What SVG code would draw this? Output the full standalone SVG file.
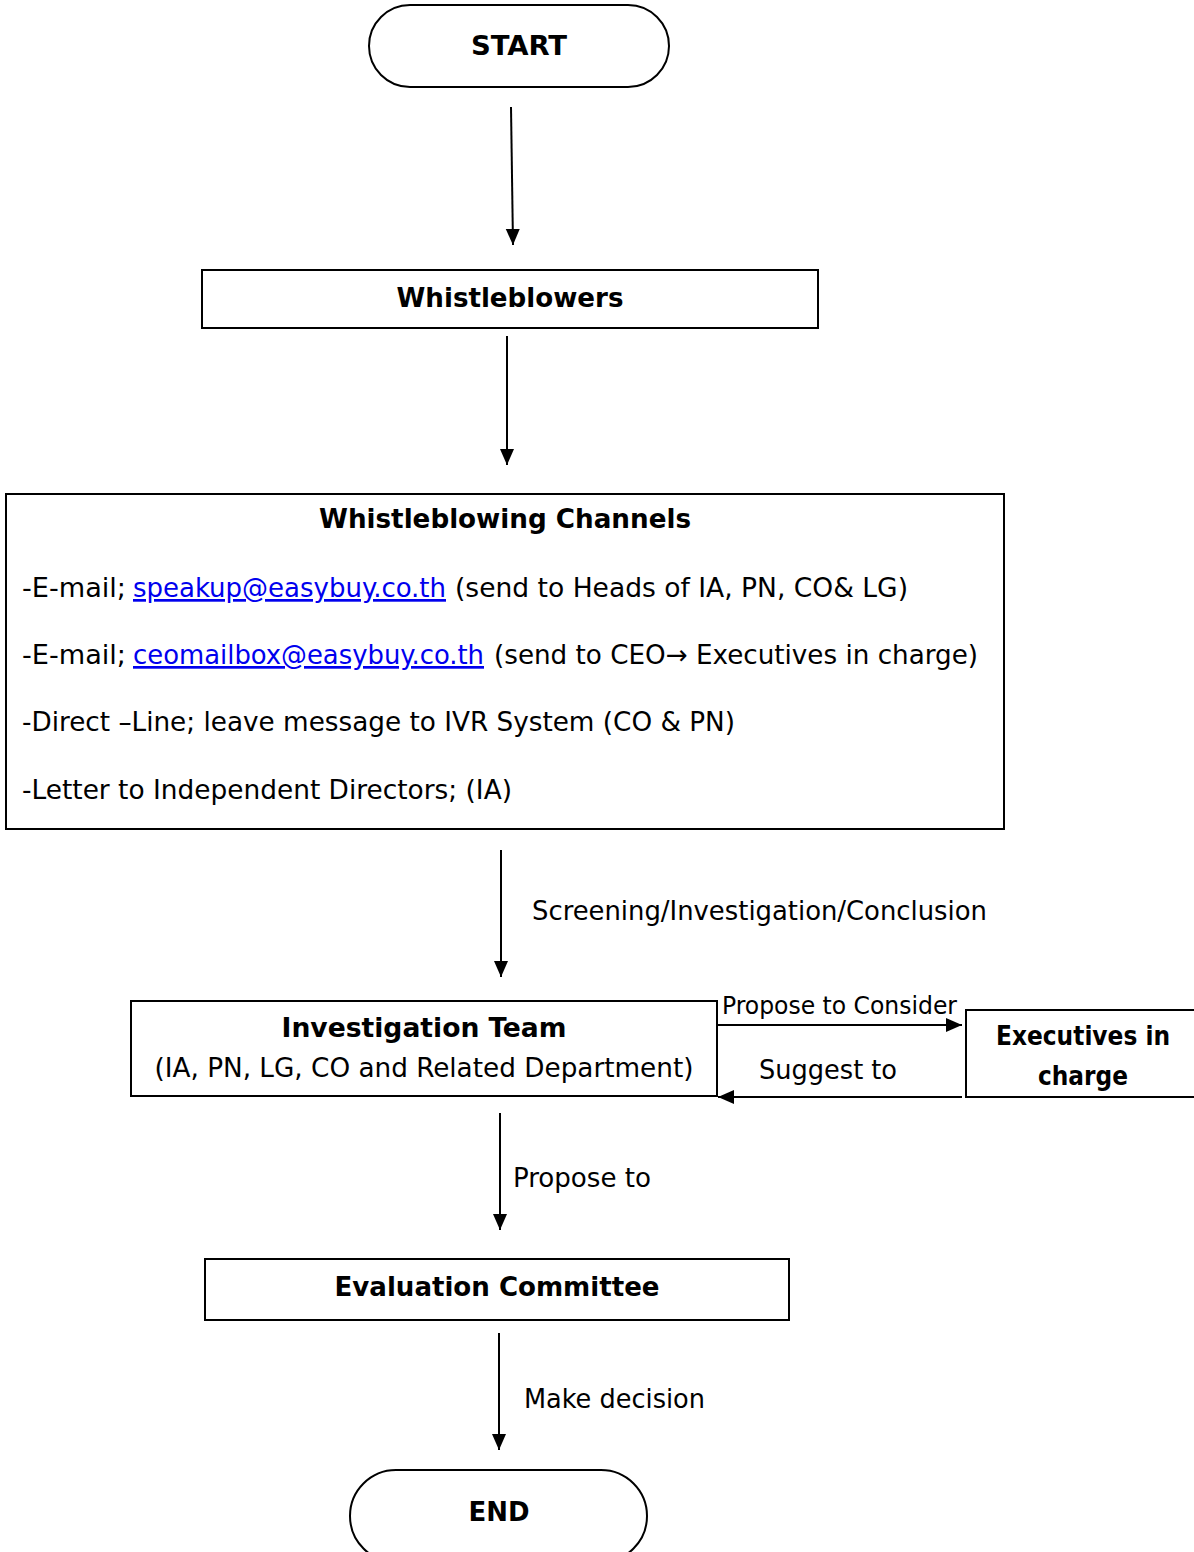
<svg xmlns="http://www.w3.org/2000/svg" width="1194" height="1552" viewBox="0 0 1194 1552">
<defs>
<style>
text{font-family:"DejaVu Sans Condensed","DejaVu Sans",sans-serif;font-size:27px;fill:#000}
.b{font-weight:bold}
.s{font-size:24px}
.link{fill:#0000ee;text-decoration:underline}
.box{fill:#fff;stroke:#000;stroke-width:2}
.ln{stroke:#000;stroke-width:2;fill:none}
</style>
<marker id="ah" markerUnits="userSpaceOnUse" markerWidth="16" markerHeight="16" viewBox="0 0 16 16" refX="16" refY="8" orient="auto">
<path d="M0,1 L16,8 L0,15 Z" fill="#000"/>
</marker>
</defs>
<rect width="1194" height="1552" fill="#fff"/>

<g id="start">
<rect class="box" x="369" y="5" width="300" height="82" rx="41" ry="41"/>
<text class="b" x="519" y="55" text-anchor="middle" textLength="96" lengthAdjust="spacingAndGlyphs">START</text>
</g>

<g id="whistleblowers">
<rect class="box" x="202" y="270" width="616" height="58"/>
<text class="b" x="510" y="307" text-anchor="middle" textLength="227" lengthAdjust="spacingAndGlyphs">Whistleblowers</text>
</g>

<g id="channels">
<rect class="box" x="6" y="494" width="998" height="335"/>
<text class="b" x="505" y="528" text-anchor="middle" textLength="372" lengthAdjust="spacingAndGlyphs">Whistleblowing Channels</text>
<text x="22" y="597" textLength="104" lengthAdjust="spacingAndGlyphs">-E-mail;</text>
<text class="link" x="133" y="597" textLength="313" lengthAdjust="spacingAndGlyphs">speakup@easybuy.co.th</text>
<text x="455" y="597" textLength="453" lengthAdjust="spacingAndGlyphs">(send to Heads of IA, PN, CO&amp; LG)</text>
<text x="22" y="664" textLength="104" lengthAdjust="spacingAndGlyphs">-E-mail;</text>
<text class="link" x="133" y="664" textLength="351" lengthAdjust="spacingAndGlyphs">ceomailbox@easybuy.co.th</text>
<text x="494" y="664" textLength="484" lengthAdjust="spacingAndGlyphs">(send to CEO→ Executives in charge)</text>
<text x="22" y="731" textLength="713" lengthAdjust="spacingAndGlyphs">-Direct –Line; leave message to IVR System (CO &amp; PN)</text>
<text x="22" y="799" textLength="490" lengthAdjust="spacingAndGlyphs">-Letter to Independent Directors; (IA)</text>
</g>

<g id="investigation">
<rect class="box" x="131" y="1001" width="586" height="95"/>
<text class="b" x="424" y="1037" text-anchor="middle" textLength="285" lengthAdjust="spacingAndGlyphs">Investigation Team</text>
<text x="424" y="1077" text-anchor="middle" textLength="539" lengthAdjust="spacingAndGlyphs">(IA, PN, LG, CO and Related Department)</text>
</g>

<g id="executives">
<rect class="box" x="966" y="1010" width="240" height="87"/>
<text class="b" x="1083" y="1045" text-anchor="middle" textLength="174" lengthAdjust="spacingAndGlyphs">Executives in</text>
<text class="b" x="1083" y="1085" text-anchor="middle" textLength="90" lengthAdjust="spacingAndGlyphs">charge</text>
</g>

<g id="evaluation">
<rect class="box" x="205" y="1259" width="584" height="61"/>
<text class="b" x="497" y="1296" text-anchor="middle" textLength="325" lengthAdjust="spacingAndGlyphs">Evaluation Committee</text>
</g>

<g id="end">
<rect class="box" x="350" y="1470" width="297" height="92" rx="46" ry="46"/>
<text class="b" x="499" y="1521" text-anchor="middle" textLength="61" lengthAdjust="spacingAndGlyphs">END</text>
</g>

<g id="connectors">
<line class="ln" x1="511" y1="107" x2="513" y2="245" marker-end="url(#ah)"/>
<line class="ln" x1="507" y1="336" x2="507" y2="465" marker-end="url(#ah)"/>
<line class="ln" x1="501" y1="850" x2="501" y2="977" marker-end="url(#ah)"/>
<text x="532" y="920" textLength="455" lengthAdjust="spacingAndGlyphs">Screening/Investigation/Conclusion</text>
<line class="ln" x1="718" y1="1025" x2="962" y2="1025" marker-end="url(#ah)"/>
<text class="s" x="722" y="1014" textLength="235" lengthAdjust="spacingAndGlyphs">Propose to Consider</text>
<line class="ln" x1="962" y1="1097" x2="718" y2="1097" marker-end="url(#ah)"/>
<text x="759" y="1079" textLength="138" lengthAdjust="spacingAndGlyphs">Suggest to</text>
<line class="ln" x1="500" y1="1113" x2="500" y2="1230" marker-end="url(#ah)"/>
<text x="513" y="1187" textLength="138" lengthAdjust="spacingAndGlyphs">Propose to</text>
<line class="ln" x1="499" y1="1333" x2="499" y2="1450" marker-end="url(#ah)"/>
<text x="524" y="1408" textLength="181" lengthAdjust="spacingAndGlyphs">Make decision</text>
</g>
</svg>
